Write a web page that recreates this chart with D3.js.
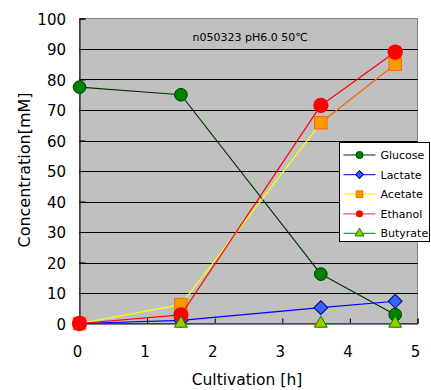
<!DOCTYPE html>
<html>
<head>
<meta charset="utf-8">
<script src="https://cdn.jsdelivr.net/npm/d3@7"></script>
<style>
body{margin:0;background:#fff;}
text{font-family:"DejaVu Sans","Noto Sans CJK JP",sans-serif;fill:#000;}
</style>
</head>
<body>
<div id="chart"></div>
<script>
// data
var times = [0, 1.5, 3.57, 4.67];
var glucose = [77.5, 75, 16.2, 2.9];
var lactate = [0, 1, 5.2, 7.3];
var acetate = [0, 6.2, 65.8, 85];
var ethanol = [0, 2.8, 71.5, 89];
var butyrate = [null, 0, 0, 0];
var seriesNames = ["Glucose", "Lactate", "Acetate", "Ethanol", "Butyrate"];
var xTicks = [0, 1, 2, 3, 4, 5];
var yTicks = [0, 10, 20, 30, 40, 50, 60, 70, 80, 90, 100];
var chartTitle = "n050323 pH6.0 50\u2103";

function init(){
	var width = 431, height = 390;
	var left = 79.5, right = 417.5, top = 18.5, bottom = 323.5;

	var svg = d3.select("#chart").append("svg")
				.attr("width", width)
				.attr("height", height);

	var x = d3.scaleLinear().domain([0, 5]).range([left, right]);
	var y = d3.scaleLinear().domain([0, 100]).range([bottom, top]);

	// plot area
	svg.append("rect")
		.attr("x", left).attr("y", top)
		.attr("width", right - left).attr("height", bottom - top)
		.attr("fill", "#c0c0c0")
		.attr("stroke", "#808080");

	// grid lines
	svg.selectAll("line.grid").data(yTicks.slice(1, -1)).enter()
		.append("line")
		.attr("x1", left).attr("x2", right)
		.attr("y1", d => Math.round(y(d)) + 0.5).attr("y2", d => Math.round(y(d)) + 0.5)
		.attr("stroke", "#000").attr("stroke-width", 1);

	// axes (ticks inside)
	var yAxis = svg.append("g").attr("transform", "translate(" + left + ",0)")
		.call(d3.axisRight(y).tickValues(yTicks).tickSize(6).tickFormat(""));
	yAxis.select(".domain").attr("stroke", "#000");
	var xAxis = svg.append("g").attr("transform", "translate(0," + bottom + ")")
		.call(d3.axisTop(x).tickValues(xTicks).tickSize(5).tickFormat(""));
	xAxis.select(".domain").attr("stroke", "#000");

	svg.selectAll("text.ylab").data(yTicks).enter()
		.append("text")
		.attr("x", 66).attr("y", d => y(d) + 6)
		.attr("text-anchor", "end")
		.style("font-size", "15px")
		.text(d => d);

	svg.selectAll("text.xlab").data(xTicks).enter()
		.append("text")
		.attr("x", d => x(d) - 2).attr("y", 357)
		.attr("text-anchor", "middle")
		.style("font-size", "15px")
		.text(d => d);

	svg.append("text")
		.attr("x", 247).attr("y", 385)
		.attr("text-anchor", "middle")
		.style("font-size", "15.5px")
		.text("Cultivation [h]");

	svg.append("text")
		.attr("transform", "translate(30,170) rotate(-90)")
		.attr("text-anchor", "middle")
		.style("font-size", "16px")
		.text("Concentration[mM]");

	svg.append("text")
		.attr("x", 250).attr("y", 41)
		.attr("text-anchor", "middle")
		.style("font-size", "11px")
		.text(chartTitle);

	var series = [
		{name: "Glucose", values: glucose, line: "#003300", seg: null, sym: d3.symbolCircle, size: 126, fill: "#008000", stroke: "#004000", legLine: "#003300"},
		{name: "Lactate", values: lactate, line: "#0000ff", seg: null, sym: d3.symbolSquare, rot: 45, size: 96, fill: "#3366ff", stroke: "#000080", legLine: "#3333ff"},
		{name: "Acetate", values: acetate, line: "#ffff00", seg: [null, null, "#ff6600"], sym: d3.symbolSquare, size: 155, fill: "#ff9900", stroke: "#ff6600", legLine: "#ffff00"},
		{name: "Ethanol", values: ethanol, line: "#ff0000", seg: null, sym: d3.symbolCircle, size: 185, fill: "#ff0000", stroke: "none", legLine: "#ff5050"},
		{name: "Butyrate", values: butyrate, line: "#008000", seg: null, sym: d3.symbolTriangle, size: 72, fill: "#99cc00", stroke: "#008000", legLine: "#339933"}
	];

	var lineGen = d3.line().x(d => x(d[0])).y(d => y(d[1]));

	series.forEach(function(s){
		var pts = times.map((t, i) => [t, s.values[i]]).filter(d => d[1] !== null);
		for (var i = 0; i < pts.length - 1; i++) {
			var c = (s.seg && s.seg[i]) ? s.seg[i] : s.line;
			svg.append("path")
				.attr("d", lineGen([pts[i], pts[i + 1]]))
				.attr("fill", "none")
				.attr("stroke", c)
				.attr("stroke-width", 1.2);
		}
		svg.selectAll(null).data(pts).enter()
			.append("path")
			.attr("transform", d => "translate(" + x(d[0]) + "," + y(d[1]) + ")" + (s.rot ? " rotate(" + s.rot + ")" : ""))
			.attr("d", d3.symbol().type(s.sym).size(s.size)())
			.attr("fill", s.fill)
			.attr("stroke", s.stroke)
			.attr("stroke-width", 1);
	});

	// legend
	var lx = 339.5, ly = 142.5;
	svg.append("rect")
		.attr("x", lx).attr("y", ly)
		.attr("width", 90).attr("height", 99)
		.attr("fill", "#fff")
		.attr("stroke", "#000");

	var leg = svg.selectAll("g.leg").data(series).enter()
		.append("g")
		.attr("transform", (d, i) => "translate(" + lx + "," + (ly + 12.5 + i * 19.6) + ")");
	leg.append("line")
		.attr("x1", 4).attr("x2", 36)
		.attr("stroke", d => d.legLine).attr("stroke-width", 1.2);
	leg.append("path")
		.attr("transform", d => "translate(20,0)" + (d.rot ? " rotate(" + d.rot + ")" : ""))
		.attr("d", d => d3.symbol().type(d.sym).size(d.sym === d3.symbolCircle ? 40 : (d.rot ? 30 : (d.sym === d3.symbolSquare ? 45 : 35)))())
		.attr("fill", d => d.fill)
		.attr("stroke", d => d.stroke);
	leg.append("text")
		.attr("x", 41).attr("y", 4)
		.style("font-size", "11px")
		.text(d => d.name);
}

window.onload = init;
</script>
</body>
</html>
